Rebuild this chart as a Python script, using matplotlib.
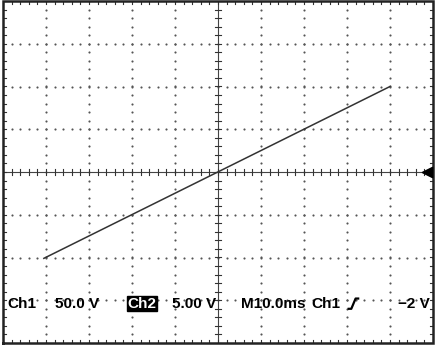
import numpy as np
import matplotlib
matplotlib.use('Agg')
import matplotlib.pyplot as plt

# trace (time in ms, Ch2 voltage in V)
t_ms = [-40.5, 40.0]
ch2_v = [-10.1, 10.0]

ms_per_div = 10.0
v_per_div = 5.0

labels = ['Ch1', '50.0 V', 'Ch2', '5.00 V', 'M10.0ms', 'Ch1', '\u22122 V']

W, H = 438, 346
fig = plt.figure(figsize=(W / 100, H / 100), dpi=100)
fig.patch.set_facecolor('white')
ax = fig.add_axes([3 / W, 3 / H, 430 / W, 342 / H])
ax.set_xlim(-5, 5)
ax.set_ylim(-4, 4)
ax.set_axis_off()

dot = dict(color='#555555', s=2.4, lw=0, zorder=2)
minor = np.arange(-5, 5.01, 0.2)
minor_y = np.arange(-4, 4.01, 0.2)

# dotted graticule
for gx in range(-4, 5):
    if gx == 0:
        continue
    ax.scatter(np.full(len(minor_y), gx), minor_y, **dot)
for gy in range(-3, 4):
    if gy == 0:
        continue
    ax.scatter(minor, np.full(len(minor), gy), **dot)

# centre axes with minor ticks
ax.plot([-5, 5], [0, 0], color='#444444', lw=0.8, zorder=2)
ax.plot([0, 0], [-4, 4], color='#444444', lw=0.8, zorder=2)
for m in minor:
    ax.plot([m, m], [-0.06, 0.06], color='#333333', lw=0.8, zorder=2)
for m in minor_y:
    ax.plot([-0.06, 0.06], [m, m], color='#333333', lw=0.8, zorder=2)

# ticks along the frame
for m in minor:
    ax.plot([m, m], [-4, -3.93], color='#333333', lw=0.8)
    ax.plot([m, m], [4, 3.93], color='#333333', lw=0.8)
for m in minor_y:
    ax.plot([-5, -4.94], [m, m], color='#333333', lw=0.8)
    ax.plot([5, 4.94], [m, m], color='#333333', lw=0.8)

# frame
ax.plot([-5, 5, 5, -5, -5], [-4, -4, 4, 4, -4], color='#222222', lw=1.8,
        solid_joinstyle='miter', clip_on=False)

# trace
x = np.array(t_ms) / ms_per_div
y = np.array(ch2_v) / v_per_div
ax.plot(x, y, color='#333333', lw=1.1, zorder=3)

# ground marker on the right edge
ax.scatter([4.86], [0], marker='<', s=55, color='black', zorder=4, clip_on=False)

# readout line
ty = -3.08
font = dict(fontsize=11, fontweight='bold', family='Liberation Sans',
            va='center', ha='left', color='black', zorder=5)
ax.text(-4.9, ty, labels[0], **font)
ax.text(-3.8, ty, labels[1], **font)
ax.text(-2.11, ty, labels[2], bbox=dict(facecolor='black', edgecolor='black',
        pad=0.6), **{**font, 'color': 'white'})
ax.text(-1.07, ty, labels[3], **font)
ax.text(0.54, ty, labels[4], **font)
ax.text(2.18, ty, labels[5], **font)
ax.plot([3.04, 3.1, 3.2, 3.26], [-3.2, -3.2, -2.96, -2.96], color='black', lw=1.6, zorder=5)
ax.text(4.93, ty, labels[6], **{**font, 'ha': 'right'})

fig.savefig('out.png', dpi=100, facecolor='white')
